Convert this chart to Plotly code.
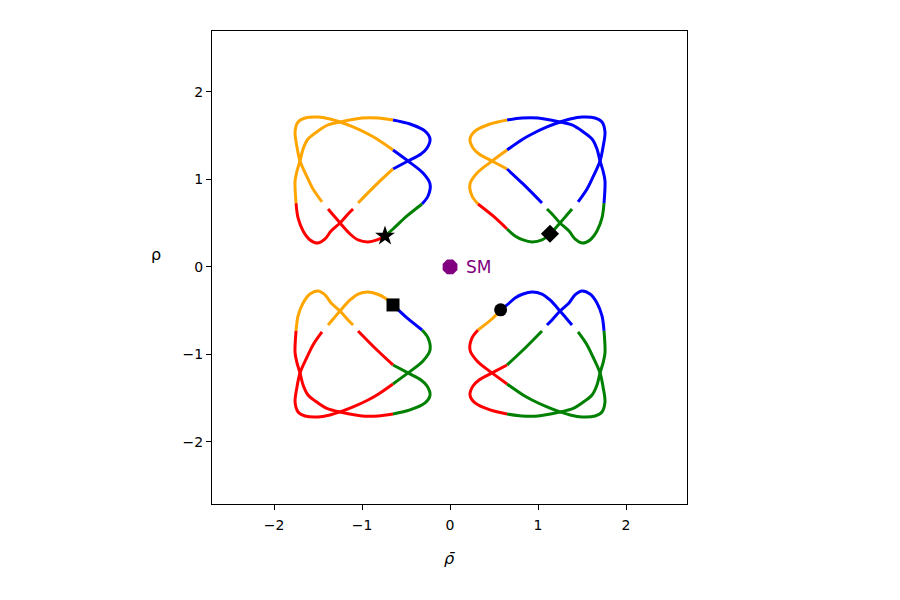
import plotly.graph_objects as go

# ---------------- data ----------------
# Top-left cluster, loop 1 (open at the gap between last and first point)
TL1_x = [-1.455, -1.557, -1.625, -1.705, -1.739, -1.761, -1.727, -1.648, -1.500, -1.364,
         -1.250, -1.102, -0.932, -0.830, -0.648, -0.477, -0.307, -0.227, -0.250, -0.318,
         -0.489, -0.648, -0.739, -0.830, -0.932, -1.045, -1.136, -1.250, -1.318, -1.386]
TL1_y = [0.743, 0.891, 1.029, 1.211, 1.371, 1.543, 1.657, 1.703, 1.714, 1.691,
         1.657, 1.600, 1.520, 1.463, 1.337, 1.211, 1.074, 0.949, 0.811, 0.720,
         0.583, 0.434, 0.354, 0.309, 0.286, 0.309, 0.377, 0.503, 0.583, 0.663]
TL1_breaks = [0, 14, 19, 22, 29]
TL1_colors = ["orange", "blue", "green", "red"]

# Top-left cluster, loop 2
TL2_x = [-1.102, -1.159, -1.250, -1.352, -1.420, -1.500, -1.591, -1.670, -1.727, -1.750,
         -1.761, -1.739, -1.705, -1.670, -1.614, -1.500, -1.386, -1.250, -1.000, -0.818,
         -0.648, -0.455, -0.284, -0.227, -0.261, -0.330, -0.477, -0.648, -0.830, -1.045]
TL2_y = [0.663, 0.606, 0.503, 0.411, 0.320, 0.274, 0.309, 0.411, 0.560, 0.731,
         0.983, 1.097, 1.211, 1.349, 1.463, 1.554, 1.623, 1.657, 1.703, 1.703,
         1.680, 1.634, 1.554, 1.463, 1.360, 1.291, 1.211, 1.120, 0.949, 0.731]
TL2_breaks = [0, 9, 20, 27, 29]
TL2_colors = ["red", "orange", "blue", "orange"]

# Top-right cluster
TR1_x = [1.455, 1.557, 1.625, 1.705, 1.739, 1.761, 1.727, 1.648, 1.500, 1.364,
         1.250, 1.102, 0.932, 0.830, 0.648, 0.477, 0.307, 0.227, 0.250, 0.318,
         0.489, 0.648, 0.739, 0.830, 0.932, 1.045, 1.136, 1.250, 1.318, 1.386]
TR1_y = [0.743, 0.891, 1.029, 1.211, 1.371, 1.543, 1.657, 1.703, 1.714, 1.691,
         1.657, 1.600, 1.520, 1.463, 1.337, 1.211, 1.074, 0.949, 0.811, 0.720,
         0.583, 0.434, 0.354, 0.309, 0.286, 0.309, 0.377, 0.503, 0.583, 0.663]
TR1_breaks = [0, 14, 19, 21, 29]
TR1_colors = ["blue", "orange", "red", "green"]

TR2_x = [1.102, 1.159, 1.250, 1.352, 1.420, 1.500, 1.591, 1.670, 1.727, 1.750,
         1.761, 1.739, 1.705, 1.670, 1.614, 1.500, 1.386, 1.250, 1.000, 0.818,
         0.648, 0.455, 0.284, 0.227, 0.261, 0.330, 0.477, 0.648, 0.830, 1.045]
TR2_y = [0.663, 0.606, 0.503, 0.411, 0.320, 0.274, 0.309, 0.411, 0.560, 0.731,
         0.983, 1.097, 1.211, 1.349, 1.463, 1.554, 1.623, 1.657, 1.703, 1.703,
         1.680, 1.634, 1.554, 1.463, 1.360, 1.291, 1.211, 1.120, 0.949, 0.731]
TR2_breaks = [0, 9, 20, 27, 29]
TR2_colors = ["green", "blue", "orange", "blue"]

# Bottom-left cluster
BL1_x = [-1.455, -1.557, -1.625, -1.705, -1.739, -1.761, -1.727, -1.648, -1.500, -1.364,
         -1.250, -1.102, -0.932, -0.830, -0.648, -0.477, -0.307, -0.227, -0.250, -0.318,
         -0.489, -0.648, -0.739, -0.830, -0.932, -1.045, -1.136, -1.250, -1.318, -1.386]
BL1_y = [-0.743, -0.891, -1.029, -1.211, -1.371, -1.543, -1.657, -1.703, -1.714, -1.691,
         -1.657, -1.600, -1.520, -1.463, -1.337, -1.211, -1.074, -0.949, -0.811, -0.720,
         -0.583, -0.434, -0.354, -0.309, -0.286, -0.309, -0.377, -0.503, -0.583, -0.663]
BL1_breaks = [0, 14, 19, 21, 29]
BL1_colors = ["red", "green", "blue", "orange"]

BL2_x = [-1.102, -1.159, -1.250, -1.352, -1.420, -1.500, -1.591, -1.670, -1.727, -1.750,
         -1.761, -1.739, -1.705, -1.670, -1.614, -1.500, -1.386, -1.250, -1.000, -0.818,
         -0.648, -0.455, -0.284, -0.227, -0.261, -0.330, -0.477, -0.648, -0.830, -1.045]
BL2_y = [-0.663, -0.606, -0.503, -0.411, -0.320, -0.274, -0.309, -0.411, -0.560, -0.731,
         -0.983, -1.097, -1.211, -1.349, -1.463, -1.554, -1.623, -1.657, -1.703, -1.703,
         -1.680, -1.634, -1.554, -1.463, -1.360, -1.291, -1.211, -1.120, -0.949, -0.731]
BL2_breaks = [0, 9, 20, 27, 29]
BL2_colors = ["orange", "red", "green", "red"]

# Bottom-right cluster
BR1_x = [1.455, 1.557, 1.625, 1.705, 1.739, 1.761, 1.727, 1.648, 1.500, 1.364,
         1.250, 1.102, 0.932, 0.830, 0.648, 0.477, 0.307, 0.227, 0.250, 0.318,
         0.489, 0.575, 0.648, 0.739, 0.830, 0.932, 1.045, 1.136, 1.250, 1.318, 1.386]
BR1_y = [-0.743, -0.891, -1.029, -1.211, -1.371, -1.543, -1.657, -1.703, -1.714, -1.691,
         -1.657, -1.600, -1.520, -1.463, -1.337, -1.211, -1.074, -0.949, -0.811, -0.720,
         -0.583, -0.490, -0.434, -0.354, -0.309, -0.286, -0.309, -0.377, -0.503, -0.583, -0.663]
BR1_breaks = [0, 14, 19, 21, 30]
BR1_colors = ["green", "red", "orange", "blue"]

BR2_x = [1.102, 1.159, 1.250, 1.352, 1.420, 1.500, 1.591, 1.670, 1.727, 1.750,
         1.761, 1.739, 1.705, 1.670, 1.614, 1.500, 1.386, 1.250, 1.000, 0.818,
         0.648, 0.455, 0.284, 0.227, 0.261, 0.330, 0.477, 0.648, 0.830, 1.045]
BR2_y = [-0.663, -0.606, -0.503, -0.411, -0.320, -0.274, -0.309, -0.411, -0.560, -0.731,
         -0.983, -1.097, -1.211, -1.349, -1.463, -1.554, -1.623, -1.657, -1.703, -1.703,
         -1.680, -1.634, -1.554, -1.463, -1.360, -1.291, -1.211, -1.120, -0.949, -0.731]
BR2_breaks = [0, 9, 20, 27, 29]
BR2_colors = ["blue", "green", "red", "green"]

# Special points
MARK_x = [-0.739, 1.136, -0.648, 0.575]
MARK_y = [0.354, 0.380, -0.434, -0.490]
MARK_symbols = ["star", "diamond", "square", "circle"]
SM_x = [0.0]
SM_y = [0.0]
SM_label = "SM"

TICKS = [-2, -1, 0, 1, 2]
TICK_TEXT = ["\u22122", "\u22121", "0", "1", "2"]

# ---------------- figure ----------------
COLOR_MAP = {"orange": "#FFA500", "blue": "#0000FF", "green": "#008000", "red": "#FF0000"}

loops = [
    (TL1_x, TL1_y, TL1_breaks, TL1_colors),
    (TL2_x, TL2_y, TL2_breaks, TL2_colors),
    (TR1_x, TR1_y, TR1_breaks, TR1_colors),
    (TR2_x, TR2_y, TR2_breaks, TR2_colors),
    (BL1_x, BL1_y, BL1_breaks, BL1_colors),
    (BL2_x, BL2_y, BL2_breaks, BL2_colors),
    (BR1_x, BR1_y, BR1_breaks, BR1_colors),
    (BR2_x, BR2_y, BR2_breaks, BR2_colors),
]

fig = go.Figure()
for xs, ys, brks, cols in loops:
    for k, c in enumerate(cols):
        s, e = brks[k], brks[k + 1]
        fig.add_trace(go.Scatter(
            x=xs[s:e + 1], y=ys[s:e + 1], mode="lines",
            line=dict(color=COLOR_MAP[c], width=3, shape="spline", smoothing=0.9),
            hoverinfo="skip", showlegend=False))

sizes = {"star": 15, "diamond": 14, "square": 13, "circle": 13}
for mx, my, sym in zip(MARK_x, MARK_y, MARK_symbols):
    fig.add_trace(go.Scatter(
        x=[mx], y=[my], mode="markers",
        marker=dict(symbol=sym, color="black", size=sizes[sym], line=dict(width=0)),
        showlegend=False))

fig.add_trace(go.Scatter(
    x=SM_x, y=SM_y, mode="markers",
    marker=dict(symbol="octagon", color="#800080", size=16, line=dict(width=0)),
    showlegend=False))
fig.add_annotation(x=SM_x[0] + 0.16, y=SM_y[0], text=SM_label, showarrow=False,
                   xanchor="left", yanchor="middle",
                   font=dict(family="DejaVu Sans", size=17, color="#800080"))

# axis labels
fig.add_annotation(xref="paper", yref="paper", x=0.5, y=-0.115,
                   text="<i>\u03c1\u0304</i>", showarrow=False,
                   xanchor="center", yanchor="middle",
                   font=dict(family="DejaVu Sans", size=16, color="black"))
fig.add_annotation(xref="paper", yref="paper", x=-0.118, y=0.528,
                   text="\u03c1", showarrow=False,
                   xanchor="center", yanchor="middle",
                   font=dict(family="DejaVu Sans", size=16, color="black"))

axis_common = dict(
    tickvals=TICKS, ticktext=TICK_TEXT, ticks="outside", ticklen=5, tickwidth=1,
    tickcolor="black", showline=True, linecolor="black", linewidth=1, mirror=True,
    showgrid=False, zeroline=False, tickfont=dict(family="DejaVu Sans", size=14, color="black"),
)
fig.update_xaxes(range=[-2.705, 2.693], ticklabelstandoff=3, **axis_common)
fig.update_yaxes(range=[-2.709, 2.697], **axis_common)

# page body has an 8px default margin, so the plot box is offset accordingly
fig.update_layout(
    width=900, height=600, autosize=False,
    margin=dict(l=204, r=221, t=23, b=104, pad=0),
    plot_bgcolor="white", paper_bgcolor="white",
    showlegend=False,
    font=dict(family="DejaVu Sans", color="black"),
)

fig.write_html("out.html")
